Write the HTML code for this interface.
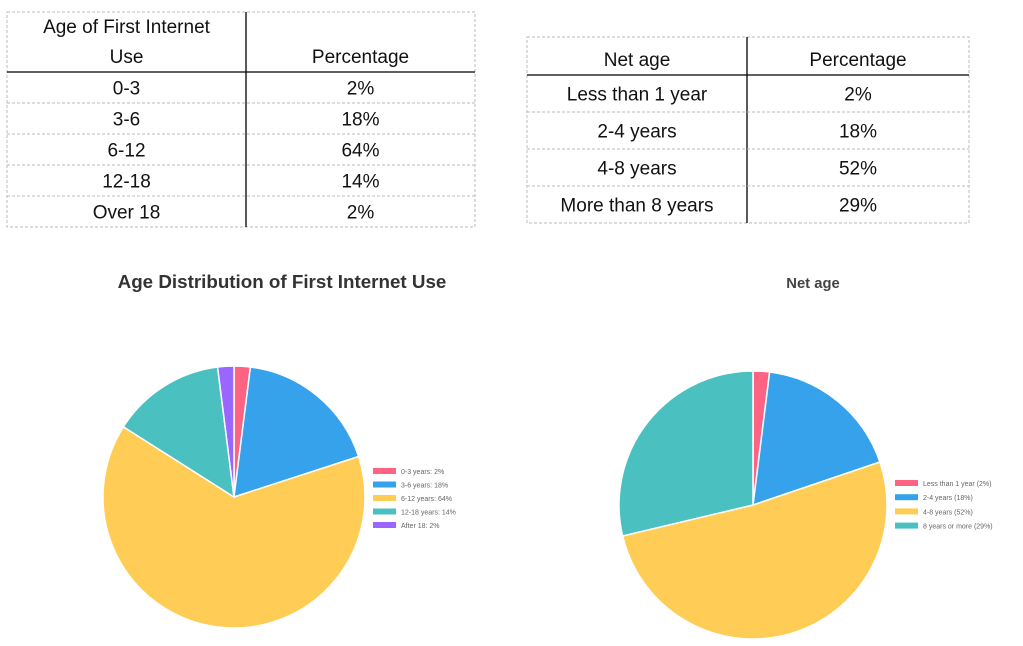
<!DOCTYPE html>
<html><head><meta charset="utf-8"><style>
html,body{margin:0;padding:0;background:#fff;width:1023px;height:646px;overflow:hidden}
svg{display:block;font-family:"Liberation Sans","Noto Sans CJK SC",sans-serif}
.t{font-size:19px;fill:#111;text-anchor:middle}
.lg{font-size:7px;fill:#666}
</style></head><body>
<svg id="s" width="1023" height="646">
<g id="tbl1"></g>
<g id="tbl2"></g>
<text x="282" y="288" text-anchor="middle" font-size="18.8" font-weight="bold" fill="#333">Age Distribution of First Internet Use</text>
<text x="813" y="288" text-anchor="middle" font-size="14.8" font-weight="bold" fill="#444">Net age</text>
<g id="pie1"></g>
<g id="pie2"></g>
</svg>
<script>
const NS='http://www.w3.org/2000/svg';
const colors=['#ff6384','#36a2eb','#ffcd56','#4bc0c0','#9966ff'];
const cats1=['0-3','3-6','6-12','12-18','Over 18'];
const vals1=[2,18,64,14,2];
const legend1=['0-3 years: 2%','3-6 years: 18%','6-12 years: 64%','12-18 years: 14%','After 18: 2%'];
const cats2=['Less than 1 year','2-4 years','4-8 years','More than 8 years'];
const vals2=[2,18,52,29];
const legend2=['Less than 1 year (2%)','2-4 years (18%)','4-8 years (52%)','8 years or more (29%)'];

function el(p,tag,a){const e=document.createElementNS(NS,tag);for(const k in a)e.setAttribute(k,a[k]);p.appendChild(e);return e;}

function table(g,x0,x1,xd,yTop,yHead,rowH,cats,vals,head1Lines){
  const n=cats.length,yBot=yHead+rowH*n;
  el(g,'rect',{x:x0,y:yTop,width:x1-x0,height:yBot-yTop,fill:'none',stroke:'#bbb','stroke-dasharray':'3,2'});
  el(g,'line',{x1:xd,y1:yTop,x2:xd,y2:yBot,stroke:'#000','stroke-width':1.3});
  el(g,'line',{x1:x0,y1:yHead,x2:x1,y2:yHead,stroke:'#000','stroke-width':1.3});
  for(let i=1;i<n;i++) el(g,'line',{x1:x0,y1:yHead+rowH*i,x2:x1,y2:yHead+rowH*i,stroke:'#bbb','stroke-dasharray':'3,2'});
  head1Lines.forEach((s,i,arr)=>{const t=el(g,'text',{x:(x0+xd)/2,y:yHead-9-(arr.length-1-i)*30,class:'t'});t.textContent=s;
    
    });
  const h=el(g,'text',{x:(xd+x1)/2,y:yHead-9,class:'t'});h.textContent='Percentage';
  
  
  cats.forEach((c,i)=>{const y=yHead+rowH*i+rowH/2+7;
    const a=el(g,'text',{x:(x0+xd)/2,y:y,class:'t'});a.textContent=c;
    
    
    const b=el(g,'text',{x:(xd+x1)/2,y:y,class:'t'});b.textContent=vals[i]+'%';
    
    });
}
table(document.getElementById('tbl1'),7,475,246,12,72,31,cats1,vals1,['Age of First Internet','Use']);
table(document.getElementById('tbl2'),527,969,747,37,75,37,cats2,vals2,['Net age']);

function pie(g,cx,cy,r,vals,labels,lx,ly,ldy){
  const tot=vals.reduce((a,b)=>a+b,0);let a0=0;
  vals.forEach((v,i)=>{const a1=a0+v/tot*2*Math.PI;
    const p=(a)=>[cx+r*Math.sin(a),cy-r*Math.cos(a)];
    const [x0,y0]=p(a0),[x1,y1]=p(a1);
    const s=el(g,'path',{d:`M${cx},${cy}L${x0},${y0}A${r},${r} 0 ${a1-a0>Math.PI?1:0} 1 ${x1},${y1}Z`,fill:colors[i],stroke:'#fff','stroke-width':1.5});
    
    
    a0=a1;
    const rr=el(g,'rect',{x:lx,y:ly+i*ldy,width:23,height:6,fill:colors[i]});
    
    
    const t=el(g,'text',{x:lx+28,y:ly+i*ldy+6,class:'lg'});t.textContent=labels[i];
    
    
  });
}
pie(document.getElementById('pie1'),234,497,131,vals1,legend1,373,468,13.5);
pie(document.getElementById('pie2'),753,505,134,vals2,legend2,895,480,14.2);
</script>
</body></html>
